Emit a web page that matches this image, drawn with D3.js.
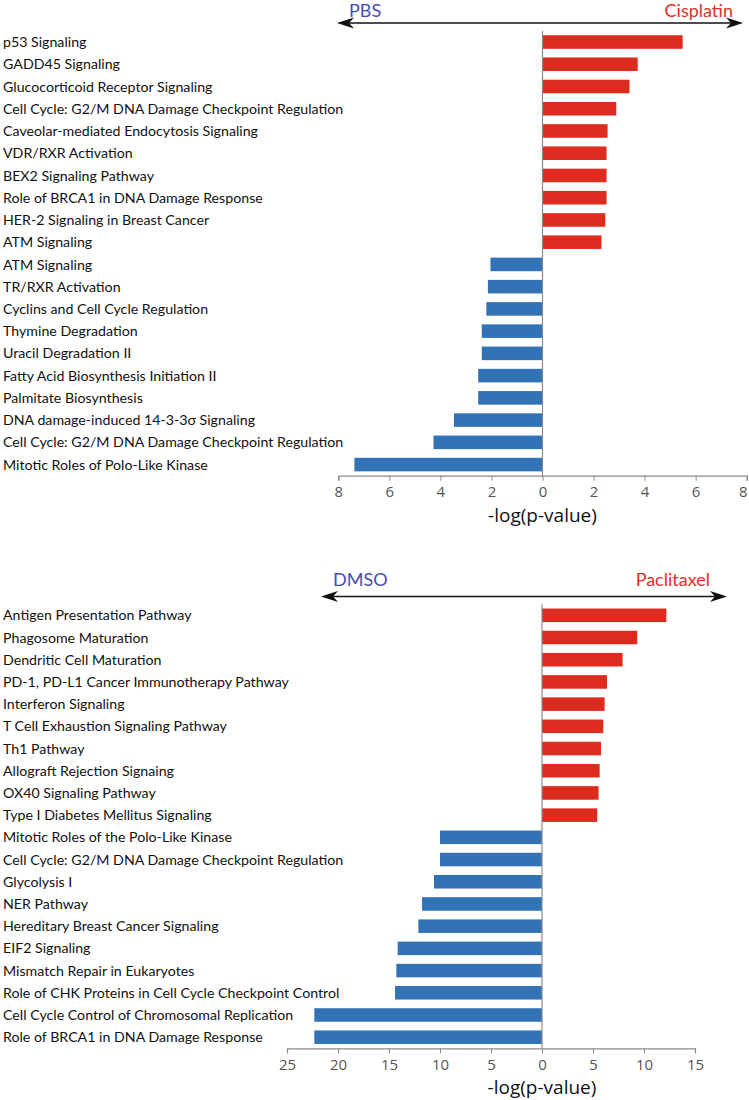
<!DOCTYPE html>
<html>
<head>
<meta charset="utf-8">
<script src="https://cdn.jsdelivr.net/npm/d3@7"></script>
<style>
  html, body { margin: 0; padding: 0; background: #fff; }
  svg { display: block; }
</style>
</head>
<body>
<svg id="chart" width="749" height="1100"></svg>
<script>
// ---------- DATA ----------
const topCategories = [
  "p53 Signaling",
  "GADD45 Signaling",
  "Glucocorticoid Receptor Signaling",
  "Cell Cycle: G2/M DNA Damage Checkpoint Regulation",
  "Caveolar-mediated Endocytosis Signaling",
  "VDR/RXR Activation",
  "BEX2 Signaling Pathway",
  "Role of BRCA1 in DNA Damage Response",
  "HER-2 Signaling in Breast Cancer",
  "ATM Signaling",
  "ATM Signaling",
  "TR/RXR Activation",
  "Cyclins and Cell Cycle Regulation",
  "Thymine Degradation",
  "Uracil Degradation II",
  "Fatty Acid Biosynthesis Initiation II",
  "Palmitate Biosynthesis",
  "DNA damage-induced 14-3-3\u03c3 Signaling",
  "Cell Cycle: G2/M DNA Damage Checkpoint Regulation",
  "Mitotic Roles of Polo-Like Kinase"
];
const topValues = [5.49, 3.73, 3.41, 2.89, 2.55, 2.51, 2.51, 2.51, 2.46, 2.31,
  -2.04, -2.14, -2.2, -2.38, -2.38, -2.52, -2.52, -3.47, -4.27, -7.37];
const topTicks = [-8, -6, -4, -2, 0, 2, 4, 6, 8];
const topLeftLabel = "PBS";
const topRightLabel = "Cisplatin";

const bottomCategories = [
  "Antigen Presentation Pathway",
  "Phagosome Maturation",
  "Dendritic Cell Maturation",
  "PD-1, PD-L1 Cancer Immunotherapy Pathway",
  "Interferon Signaling",
  "T Cell Exhaustion Signaling Pathway",
  "Th1 Pathway",
  "Allograft Rejection Signaing",
  "OX40 Signaling Pathway",
  "Type I Diabetes Mellitus Signaling",
  "Mitotic Roles of the Polo-Like Kinase",
  "Cell Cycle: G2/M DNA Damage Checkpoint Regulation",
  "Glycolysis I",
  "NER Pathway",
  "Hereditary Breast Cancer Signaling",
  "EIF2 Signaling",
  "Mismatch Repair in Eukaryotes",
  "Role of CHK Proteins in Cell Cycle Checkpoint Control",
  "Cell Cycle Control of Chromosomal Replication",
  "Role of BRCA1 in DNA Damage Response"
];
const bottomValues = [12.19, 9.34, 7.9, 6.37, 6.14, 6.01, 5.78, 5.65, 5.55, 5.42,
  -10.0, -10.0, -10.59, -11.76, -12.12, -14.15, -14.28, -14.41, -22.32, -22.32];
const bottomTicks = [-25, -20, -15, -10, -5, 0, 5, 10, 15];
const bottomLeftLabel = "DMSO";
const bottomRightLabel = "Paclitaxel";

const axisTitle = "-log(p-value)";

// ---------- STYLE ----------
const RED = "#dc2b1f";
const BLUE = "#3273b6";
const LEFT_LABEL_COLOR = "#4a4cb0";
const RIGHT_LABEL_COLOR = "#e0302a";
const LABEL_FONT = "Lato, 'Open Sans', sans-serif";
const TICK_FONT = "'Open Sans', 'Noto Sans', sans-serif";

const svg = d3.select("#chart");

function arrowHead(g, xTip, y, dir) {
  const L = 17, H = 5.5, N = 12;
  const pts = [
    [xTip, y],
    [xTip - dir * L, y - H],
    [xTip - dir * N, y],
    [xTip - dir * L, y + H]
  ];
  g.append("path")
    .attr("d", "M" + pts.map(p => p.join(",")).join("L") + "Z")
    .attr("fill", "#111");
}

function panel(cfg) {
  const g = svg.append("g");
  const x = d3.scaleLinear().domain(cfg.domain).range(cfg.xRange);
  const y = d3.scaleBand()
    .domain(d3.range(cfg.categories.length))
    .range(cfg.yRange)
    .paddingInner(0.39)
    .paddingOuter(0.195);

  // header arrow
  const ag = g.append("g");
  ag.append("line")
    .attr("x1", cfg.arrowX[0] + 8).attr("x2", cfg.arrowX[1] - 8)
    .attr("y1", cfg.arrowY).attr("y2", cfg.arrowY)
    .attr("stroke", "#111").attr("stroke-width", 1.6);
  arrowHead(ag, cfg.arrowX[0], cfg.arrowY, -1);
  arrowHead(ag, cfg.arrowX[1], cfg.arrowY, 1);

  g.append("text")
    .attr("x", cfg.leftLabelX).attr("y", cfg.labelBaseline)
    .attr("font-family", LABEL_FONT).attr("font-size", 18)
    .attr("fill", LEFT_LABEL_COLOR)
    .text(cfg.leftLabel);
  g.append("text")
    .attr("x", cfg.rightLabelX).attr("y", cfg.labelBaseline)
    .attr("text-anchor", "end")
    .attr("font-family", LABEL_FONT).attr("font-size", 18)
    .attr("fill", RIGHT_LABEL_COLOR)
    .text(cfg.rightLabel);

  // bars
  g.append("g").selectAll("rect")
    .data(cfg.values)
    .join("rect")
    .attr("x", d => x(Math.min(0, d)))
    .attr("width", d => Math.abs(x(d) - x(0)))
    .attr("y", (d, i) => y(i))
    .attr("height", y.bandwidth())
    .attr("fill", d => d >= 0 ? RED : BLUE);

  // zero line
  g.append("line")
    .attr("x1", x(0)).attr("x2", x(0))
    .attr("y1", cfg.yRange[0]).attr("y2", cfg.yRange[1])
    .attr("stroke", "#8a8a8a").attr("stroke-width", 1.2);

  // category labels
  g.append("g").selectAll("text")
    .data(cfg.categories)
    .join("text")
    .attr("x", 3)
    .attr("y", (d, i) => y(i) + y.bandwidth() / 2)
    .attr("dy", "0.36em")
    .attr("font-family", LABEL_FONT)
    .attr("font-size", cfg.labelSize)
    .attr("fill", "#111")
    .text(d => d);

  // x axis
  const axis = d3.axisBottom(x)
    .tickValues(cfg.ticks)
    .tickFormat(d => Math.abs(d))
    .tickSize(5)
    .tickPadding(6);
  const axG = g.append("g")
    .attr("transform", `translate(0,${cfg.yRange[1]})`)
    .call(axis);
  axG.select(".domain").attr("stroke", "#8a8a8a").attr("stroke-width", 1.2);
  axG.selectAll(".tick line").attr("stroke", "#8a8a8a");
  axG.selectAll(".tick text")
    .attr("font-family", TICK_FONT)
    .attr("font-size", 15)
    .attr("fill", "#555")
    .attr("dx", d => (x(d) > 740 ? -4 : 0));

  g.append("text")
    .attr("x", x(0)).attr("y", cfg.yRange[1] + 46)
    .attr("text-anchor", "middle")
    .attr("font-family", TICK_FONT)
    .attr("font-size", 19)
    .attr("fill", "#111")
    .text(axisTitle);
}

panel({
  categories: topCategories, values: topValues, ticks: topTicks,
  domain: [-8, 8], xRange: [338.3, 746.7], yRange: [30.9, 475.7],
  arrowX: [337, 743], arrowY: 23,
  leftLabel: topLeftLabel, rightLabel: topRightLabel,
  leftLabelX: 349, rightLabelX: 733, labelBaseline: 17,
  labelSize: 14.2
});

panel({
  categories: bottomCategories, values: bottomValues, ticks: bottomTicks,
  domain: [-25, 15], xRange: [287, 695], yRange: [604.2, 1048.3],
  arrowX: [321, 727], arrowY: 596.5,
  leftLabel: bottomLeftLabel, rightLabel: bottomRightLabel,
  leftLabelX: 333, rightLabelX: 710, labelBaseline: 586,
  labelSize: 14.2
});
</script>
</body>
</html>
